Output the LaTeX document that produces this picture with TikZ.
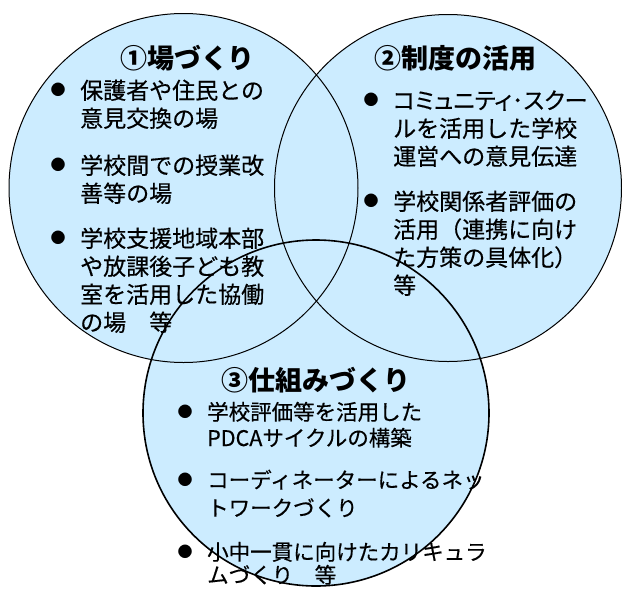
\documentclass[tikz,border=0pt]{standalone}
\usepackage{fontspec}
\setmainfont{Noto Sans CJK JP}
\newfontfamily\jpm{Noto Sans CJK JP}[FakeBold=0.4]
\definecolor{venn}{RGB}{204,236,255}
\begin{document}
\begin{tikzpicture}[x=1pt,y=-1pt,
  ring/.style={draw=black,line width=1pt},
  ringb/.style={draw=black,line width=1.6pt},
  ttl/.style={font=\fontsize{27}{30}\selectfont\bfseries, anchor=center, inner sep=0},
  txt/.style={font=\jpm\fontsize{23}{28}\selectfont, anchor=base west, inner sep=0},
  txts/.style={font=\jpm\fontsize{21.5}{26}\selectfont, anchor=base west, inner sep=0},
  bul/.style={font=\fontsize{15}{15}\selectfont, anchor=center, inner sep=0}]
\useasboundingbox (0,0) rectangle (622,590);
% fills
\fill[venn] (183.5,188) circle (174.5);
\fill[venn] (448,188) circle (173.5);
\fill[venn] (316,413) circle (173);
% outlines
\draw[ring] (183.5,188) circle (174.5);
\draw[ring] (448,188) circle (173.5);
\draw[ringb] (316,413) circle (173);
% titles
\node[ttl] (t1) at (187.5,58) {①場づくり};
\node[ttl] (t2) at (455,58) {②制度の活用};
\node[ttl] (t3) at (315.5,380) {③仕組みづくり};
% circle 1
\node[bul] (b11) at (58,90) {●};
\node[txt] (a1) at (80,99) {保護者や住民との};
\node[txt] (a2) at (80,127) {意見交換の場};
\node[bul] (b12) at (58,165) {●};
\node[txt] (a3) at (80,174) {学校間での授業改};
\node[txt] (a4) at (80,202) {善等の場};
\node[bul] (b13) at (58,238) {●};
\node[txt] (a5) at (80,247) {学校支援地域本部};
\node[txt] (a6) at (80,275) {や放課後子ども教};
\node[txt] (a7) at (80,303) {室を活用した協働};
\node[txt] (a8) at (80,331) {の場\hspace{1em}等};
% circle 2
\node[bul] (b21) at (371,100) {●};
\node[txt] (c1) at (393,109) {\addfontfeature{RawFeature=+palt}コミュニティ･スクー};
\node[txt] (c2) at (393,137) {ルを活用した学校};
\node[txt] (c3) at (393,165) {運営への意見伝達};
\node[bul] (b22) at (371,201) {●};
\node[txt] (c4) at (393,210) {学校関係者評価の};
\node[txt] (c5) at (393,238) {活用（連携に向け};
\node[txt] (c6) at (393,266) {た方策の具体化）};
\node[txt] (c7) at (393,294) {等};
% circle 3
\node[bul] (b31) at (185,412) {●};
\node[txts] (d1) at (207,420) {学校評価等を活用した};
\node[txts] (d2) at (207,446) {PDCAサイクルの構築};
\node[bul] (b32) at (185,480) {●};
\node[txts] (d3) at (207,488) {コーディネーターによるネッ};
\node[txts] (d4) at (207,516) {トワークづくり};
\node[bul] (b33) at (185,552) {●};
\node[txts] (d5) at (207,560) {小中一貫に向けたカリキュラ};
\node[txts] (d6) at (207,583) {ムづくり\hspace{1em}等};
\end{tikzpicture}
\end{document}
